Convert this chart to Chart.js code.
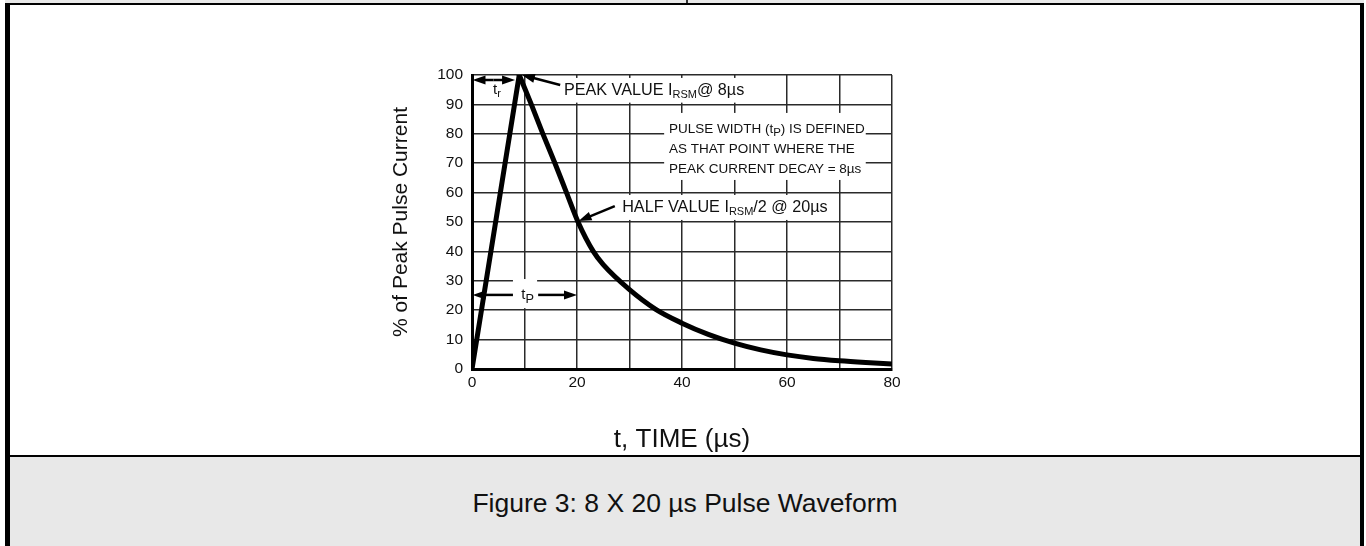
<!DOCTYPE html>
<html>
<head>
<meta charset="utf-8">
<title>Figure 3: 8 X 20 µs Pulse Waveform</title>
<script src="https://cdn.jsdelivr.net/npm/chart.js@4.4.1/dist/chart.umd.min.js"></script>
<style>
  html, body { margin: 0; padding: 0; background: #fff; }
  body { width: 1366px; height: 546px; position: relative; overflow: hidden;
         font-family: "Liberation Sans", Arial, sans-serif; }
  #topstrip { position: absolute; left: 5px; top: 0; width: 1359px; height: 3px; background: #e8e8e8; }
  #topdiv { position: absolute; left: 686px; top: 0; width: 2px; height: 4px; background: #333; }
  #cell { position: absolute; left: 5px; top: 3px; width: 1350px; height: 450px; background: #fff;
          border-left: 5px solid #000; border-right: 4px solid #000;
          border-top: 2px solid #000; border-bottom: 2px solid #000; }
  #caption { position: absolute; left: 5px; top: 457px; width: 1350px; height: 85px; padding-top: 4px;
             background: #e8e8e8; border-left: 5px solid #000; border-right: 4px solid #000;
             text-align: center; line-height: 85px; font-size: 26.5px; color: #111; }
  #wrap { position: absolute; left: 0; top: 0; width: 1366px; height: 456px; }
</style>
</head>
<body>
<div id="topstrip"></div>
<div id="topdiv"></div>
<div id="cell"></div>
<div id="caption">Figure 3: 8 X 20 µs Pulse Waveform</div>
<div id="wrap"><canvas id="pulseChart" width="1366" height="456"></canvas></div>

<script>
// values (time in µs, current in % of peak)
const riseTime = [0, 9];
const riseCurrent = [0, 100];

const decayTime    = [9, 11.3, 13.5, 15.8, 18, 20.2, 23.1, 25, 30, 35, 40, 45, 50, 55, 60, 65, 70, 75, 80];
const decayCurrent = [100, 90, 80, 70, 60, 50, 40, 35.5, 27, 20.3, 15.6, 11.8, 8.8, 6.5, 4.8, 3.6, 2.8, 2.2, 1.7];

const xTickLabels = [0, 20, 40, 60, 80];
const yTickLabels = [0, 10, 20, 30, 40, 50, 60, 70, 80, 90, 100];

Chart.defaults.font.family = '"Liberation Sans", Arial, sans-serif';

function toPoints(xs, ys) {
  return xs.map((x, i) => ({ x: x, y: ys[i] }));
}

// draws text pieces, some of them as subscripts
function richText(ctx, x, y, parts, size) {
  let cx = x;
  parts.forEach(p => {
    const sub = p[1];
    const fs = sub ? size * p[2] : size;
    ctx.font = fs + 'px "Liberation Sans", Arial, sans-serif';
    ctx.fillText(p[0], cx, sub ? y + size * 0.28 : y);
    cx += ctx.measureText(p[0]).width;
  });
  return cx - x;
}

function arrow(ctx, x1, y1, x2, y2) {
  const a = Math.atan2(y2 - y1, x2 - x1), L = 13, w = 4.5;
  ctx.beginPath();
  ctx.moveTo(x1, y1);
  ctx.lineTo(x2 - Math.cos(a) * L * 0.7, y2 - Math.sin(a) * L * 0.7);
  ctx.stroke();
  ctx.beginPath();
  ctx.moveTo(x2, y2);
  ctx.lineTo(x2 - L * Math.cos(a) + w * Math.sin(a), y2 - L * Math.sin(a) - w * Math.cos(a));
  ctx.lineTo(x2 - L * Math.cos(a) - w * Math.sin(a), y2 - L * Math.sin(a) + w * Math.cos(a));
  ctx.closePath();
  ctx.fill();
}

// labels sit on white boxes that hide the grid, like in the original
const labels = [
  { x: 17.5, y: 94.7, size: 16.2, parts: [['PEAK VALUE I'], ['RSM', true, 0.68], ['@ 8µs']] },
  { x: 28.6, y: 54.8, size: 16.2, parts: [['HALF VALUE I'], ['RSM', true, 0.68], ['/2 @ 20µs']] },
  { x: 37.5, y: 81.6, size: 13.5, parts: [['PULSE WIDTH (t'], ['P', true, 0.85], [') IS DEFINED']] },
  { x: 37.5, y: 74.8, size: 13.5, parts: [['AS THAT POINT WHERE THE']] },
  { x: 37.5, y: 68.0, size: 13.5, parts: [['PEAK CURRENT DECAY = 8µs']] }
];

// [x0, y0, x1, y1] in data units
const whiteBoxes = [
  [16.0, 99.0, 54.9, 90.6],
  [36.6, 87.1, 75.0, 64.3],
  [27.6, 59.2, 68.6, 50.7],
  [7.8, 30.6, 12.4, 20.7]
];

const annotations = {
  id: 'annotations',
  afterDatasetsDraw(chart) {
    const ctx = chart.ctx;
    const xs = chart.scales.x, ys = chart.scales.y;
    const px = v => xs.getPixelForValue(v);
    const py = v => ys.getPixelForValue(v);
    ctx.save();
    ctx.textBaseline = 'middle';
    ctx.textAlign = 'left';

    ctx.fillStyle = '#fff';
    whiteBoxes.forEach(b => ctx.fillRect(px(b[0]), py(b[1]), px(b[2]) - px(b[0]), py(b[3]) - py(b[1])));

    ctx.fillStyle = '#111';
    labels.forEach(l => richText(ctx, px(l.x), py(l.y), l.parts, l.size));

    // t_r and t_P
    richText(ctx, px(4.0), py(94.9), [['t'], ['r', true, 0.75]], 15);
    richText(ctx, px(9.4), py(25.2), [['t'], ['P', true, 0.85]], 15);

    ctx.strokeStyle = '#000';
    ctx.fillStyle = '#000';
    ctx.lineWidth = 2.5;
    // rise time double arrow
    arrow(ctx, px(4.1), py(98.3), px(0.1), py(98.3));
    arrow(ctx, px(4.1), py(98.3), px(8.2), py(98.3));
    // pulse width arrows
    arrow(ctx, px(7.8), py(25.2), px(0.1), py(25.2));
    arrow(ctx, px(12.6), py(25.2), px(20), py(25.2));
    // pointers to the peak and the half value
    arrow(ctx, px(16.8), py(96.6), px(9.5), py(100));
    arrow(ctx, px(27.2), py(55.4), px(20.3), py(50.3));
    ctx.restore();
  }
};

new Chart(document.getElementById('pulseChart'), {
  type: 'line',
  data: {
    datasets: [
      {
        data: toPoints(riseTime, riseCurrent),
        borderColor: '#000',
        borderWidth: 5,
        borderCapStyle: 'round',
        tension: 0,
        pointRadius: 0
      },
      {
        data: toPoints(decayTime, decayCurrent),
        borderColor: '#000',
        borderWidth: 5,
        borderCapStyle: 'round',
        cubicInterpolationMode: 'monotone',
        pointRadius: 0
      }
    ]
  },
  options: {
    responsive: false,
    animation: false,
    layout: { padding: { left: 382, right: 474, top: 75, bottom: 1 } },
    scales: {
      x: {
        type: 'linear',
        min: 0,
        max: 80,
        ticks: {
          stepSize: 10,
          autoSkip: false,
          maxRotation: 0,
          padding: 4,
          color: '#111',
          font: { size: 15.5 },
          callback: v => xTickLabels.includes(v) ? String(v) : ''
        },
        grid: { color: '#2a2a2a', lineWidth: 1.5, drawTicks: false },
        border: { display: true, color: '#000', width: 3 },
        title: { display: true, text: 't, TIME (µs)', color: '#111', font: { size: 26 }, padding: 0 },
        afterFit: s => { s.height = 86; }
      },
      y: {
        min: 0,
        max: 100,
        ticks: {
          stepSize: 10,
          padding: 9,
          color: '#111',
          font: { size: 15.5 },
          callback: v => yTickLabels.includes(v) ? String(v) : ''
        },
        grid: { color: '#2a2a2a', lineWidth: 1.5, drawTicks: false },
        border: { display: true, color: '#000', width: 3 },
        title: { display: true, text: '% of Peak Pulse Current', color: '#111', font: { size: 21 }, padding: { top: 7, bottom: 0 } },
        afterFit: s => { s.width = 90; }
      }
    },
    plugins: {
      legend: { display: false },
      tooltip: { enabled: false }
    }
  },
  plugins: [annotations]
});
</script>
</body>
</html>
